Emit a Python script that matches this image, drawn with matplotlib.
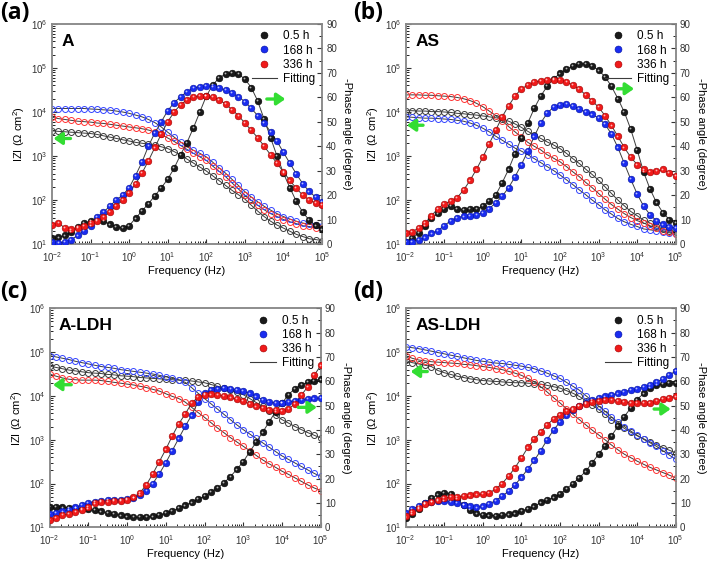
import matplotlib
matplotlib.use("Agg")
import matplotlib.pyplot as plt
import matplotlib.ticker as mticker
import matplotlib.transforms as mtransforms
from matplotlib.lines import Line2D
import numpy as np

plt.rcParams['font.family'] = ['Liberation Sans', 'DejaVu Sans']
plt.rcParams['mathtext.fontset'] = 'custom'
plt.rcParams['mathtext.rm'] = 'Liberation Sans'
plt.rcParams['mathtext.it'] = 'Liberation Sans:italic'
plt.rcParams['mathtext.bf'] = 'Liberation Sans:bold'

# measurement frequencies, 6 per decade, 10 mHz .. 100 kHz
freq = np.logspace(-2, 5, 43)
labels = ['0.5 h', '168 h', '336 h']

# ---------------- (a) A ----------------
a_z_05 = [3720, 3630, 3550, 3470, 3390, 3310,
          3240, 3090, 2880, 2690, 2510, 2340,
          2190, 2040, 1950, 1860, 1740, 1620,
          1480, 1260, 1050, 851, 692, 562,
          457, 355, 275, 214, 166, 132,
          105, 76, 56, 42, 33, 27,
          23, 19.5, 16.6, 14.8, 13.2, 12.6,
          12.0]
a_z_168 = [12000, 12000, 12000, 12000, 12000, 12000,
           11700, 11500, 11200, 11000, 10500, 10000,
           9330, 8510, 7760, 6760, 5750, 4570,
           3470, 2690, 2090, 1620, 1350, 1150,
           955, 724, 537, 407, 295, 214,
           155, 117, 91, 72, 59, 49,
           42, 37, 33, 30, 28, 27,
           26]
a_z_336 = [7590, 7080, 6760, 6460, 6170, 6030,
           5890, 5620, 5500, 5250, 5010, 4790,
           4570, 4370, 4170, 3890, 3550, 3090,
           2570, 2140, 1740, 1410, 1150, 955,
           794, 589, 447, 339, 245, 178,
           129, 98, 76, 60, 49, 42,
           36, 32, 29, 26, 25, 23,
           23]
a_ph_05 = [2.3, 2.7, 3.5, 4.8, 7.0, 8.6,
           9.3, 9.8, 9.4, 8.0, 7.0, 6.7,
           7.5, 10.5, 13.5, 16.5, 19.7, 23.0,
           26.5, 31.0, 36.5, 41.5, 47.5, 54.0,
           60.5, 65.0, 68.0, 69.5, 70.0, 69.5,
           67.5, 64.0, 58.5, 51.0, 43.5, 36.0,
           29.0, 23.0, 17.5, 13.0, 9.8, 7.6,
           6.0]
a_ph_168 = [0.8, 0.5, 0.8, 1.8, 3.5, 5.5,
            7.5, 11.0, 13.0, 15.5, 18.0, 20.0,
            23.0, 28.0, 33.5, 40.0, 45.5, 50.0,
            54.5, 57.8, 60.2, 62.3, 63.8, 64.4,
            64.6, 64.4, 63.8, 63.0, 61.7, 60.3,
            58.2, 55.5, 52.5, 49.7, 45.8, 42.0,
            37.5, 33.0, 28.7, 24.7, 21.5, 19.2,
            17.3]
a_ph_336 = [7.8, 8.7, 6.5, 6.0, 6.5, 7.5,
            8.5, 9.5, 11.0, 13.0, 15.5, 18.0,
            21.0, 24.5, 29.0, 34.0, 39.5, 45.0,
            50.0, 54.0, 57.0, 59.0, 60.2, 60.6,
            60.5, 60.0, 59.0, 57.3, 55.0, 52.5,
            49.5, 46.5, 43.5, 40.0, 36.5, 33.0,
            29.5, 26.0, 22.8, 20.0, 18.0, 16.8,
            16.0]

# ---------------- (b) AS ----------------
b_z_05 = [10700, 10700, 10500, 10500, 10200, 10200,
          10000, 9770, 9330, 9120, 8710, 8510,
          8130, 7760, 7410, 6920, 6170, 5370,
          4470, 3630, 3020, 2510, 2090, 1780,
          1480, 1150, 871, 676, 501, 380,
          282, 200, 141, 100, 74, 55,
          44, 35, 30, 25, 22, 20,
          19]
b_z_168 = [7760, 7590, 7410, 7240, 7240, 7080,
           6920, 6760, 6460, 6170, 5620, 5010,
           4270, 3550, 2820, 2290, 1860, 1510,
           1290, 1070, 871, 708, 575, 468,
           372, 288, 224, 170, 132, 100,
           78, 60, 48, 38, 32, 28,
           25, 22, 21, 20, 19, 18,
           17]
b_z_336 = [24500, 24500, 24500, 24000, 24000, 23400,
           22900, 22400, 21400, 20000, 18200, 15800,
           13200, 10500, 8320, 6310, 4680, 3550,
           2690, 2040, 1660, 1380, 1070, 891,
           741, 575, 437, 339, 251, 191,
           141, 105, 79, 62, 49, 40,
           34, 30, 26, 23, 20, 19,
           17]
b_ph_05 = [0.7, 2.5, 4.5, 7.5, 10.5, 12.5,
           14.5, 15.5, 14.5, 14.0, 14.2, 14.2,
           15.5, 17.5, 20.0, 25.0, 30.5, 37.0,
           43.5, 49.5, 55.5, 60.5, 64.5, 67.5,
           69.8, 71.5, 72.8, 73.6, 73.7, 73.0,
           71.0, 68.5, 64.5, 59.5, 54.0, 47.0,
           38.5, 29.5, 22.5, 17.0, 12.8, 10.0,
           8.5]
b_ph_168 = [0.7, 1.0, 1.8, 2.7, 4.3, 5.5,
            7.5, 9.5, 10.8, 11.3, 11.6, 12.0,
            12.8, 14.5, 16.8, 19.5, 23.0, 27.5,
            32.5, 38.0, 44.0, 49.5, 53.5, 56.0,
            57.0, 57.2, 56.5, 55.2, 54.0, 53.0,
            51.5, 49.0, 45.0, 39.5, 33.0, 26.5,
            20.5, 15.5, 12.0, 9.5, 8.0, 7.0,
            6.5]
b_ph_336 = [4.5, 5.0, 6.5, 8.5, 11.5, 14.5,
            16.5, 17.5, 19.0, 22.0, 26.0, 30.5,
            35.5, 41.0, 46.5, 52.0, 56.5, 60.5,
            63.5, 65.0, 66.2, 66.8, 67.2, 67.2,
            67.0, 66.3, 65.0, 63.3, 61.0, 58.5,
            56.0, 52.5, 48.5, 44.0, 39.5, 35.5,
            32.5, 30.5, 29.5, 29.8, 30.5, 29.0,
            28.0]

# ---------------- (c) A-LDH ----------------
c_z_05 = [47900, 44700, 41700, 38900, 37200, 35500,
          33900, 33100, 32400, 30900, 30200, 28800,
          28200, 27500, 26300, 25700, 25100, 24500,
          24000, 23400, 22900, 22900, 21900, 20900,
          20000, 18200, 16600, 15100, 13500, 12000,
          10700, 8710, 7080, 5750, 4570, 3630,
          2880, 2400, 2000, 1700, 1450, 1260,
          1100]
c_z_168 = [83200, 77600, 72400, 67600, 61700, 57500,
           53700, 50100, 46800, 44700, 42700, 39800,
           38000, 36300, 34700, 33100, 31600, 29500,
           27500, 25100, 23400, 20400, 15500, 11500,
           8710, 6610, 5010, 3800, 2880, 2190,
           1700, 1350, 1070, 851, 676, 537,
           427, 355, 295, 245, 204, 170,
           145]
c_z_336 = [31600, 28200, 25700, 24000, 23400, 22900,
           22900, 22900, 22400, 21400, 20400, 19500,
           18600, 17800, 16600, 15500, 14100, 12900,
           11200, 9770, 8710, 7240, 5500, 4170,
           3240, 2450, 1860, 1450, 1120, 891,
           708, 562, 437, 347, 282, 234,
           191, 162, 135, 112, 93, 79,
           69]
c_ph_05 = [8.3, 8.3, 8.2, 8.0, 7.8, 7.6,
           7.5, 7.0, 6.5, 6.0, 5.4, 4.9,
           4.5, 4.2, 4.1, 4.2, 4.5, 5.0,
           5.8, 6.8, 7.8, 9.0, 10.2, 11.5,
           12.8, 14.4, 16.2, 18.2, 20.8, 23.8,
           27.0, 31.0, 35.0, 39.0, 43.3, 47.5,
           51.0, 54.5, 57.0, 58.6, 59.6, 60.3,
           60.8]
c_ph_168 = [5.5, 6.0, 6.5, 7.2, 8.2, 9.2,
            10.0, 10.6, 11.0, 11.2, 11.3, 11.4,
            11.6, 12.2, 13.2, 15.0, 18.0, 22.0,
            26.5, 31.5, 36.5, 41.5, 46.0, 51.5,
            55.0, 56.5, 57.0, 57.2, 57.0, 56.5,
            55.9, 55.0, 53.8, 52.5, 51.5, 51.1,
            51.1, 51.5, 52.0, 52.5, 52.8, 53.0,
            53.1]
c_ph_336 = [3.0, 4.0, 5.0, 5.5, 6.3, 7.2,
            8.5, 9.8, 10.3, 10.6, 10.8, 11.0,
            11.3, 12.3, 14.2, 17.5, 22.0, 27.0,
            32.0, 37.5, 42.5, 46.5, 51.0, 53.5,
            54.4, 54.6, 54.4, 54.0, 53.4, 52.6,
            51.8, 50.7, 49.7, 49.0, 48.4, 48.1,
            48.0, 48.6, 50.8, 54.3, 57.8, 62.5,
            66.5]

# ---------------- (d) AS-LDH ----------------
d_z_05 = [64600, 57500, 53700, 50100, 46800, 38000,
          33900, 30900, 28200, 26300, 24500, 23400,
          22400, 21900, 21400, 20900, 20400, 20000,
          20000, 19500, 19100, 18600, 17400, 16200,
          15100, 13200, 11500, 9770, 7760, 6170,
          4900, 3800, 2880, 2290, 1820, 1480,
          1230, 1050, 891, 776, 661, 575,
          501]
d_z_168 = [132000, 126000, 120000, 112000, 105000, 97700,
           91200, 85100, 79400, 74100, 69200, 64600,
           61700, 58900, 56200, 55000, 52500, 50100,
           47900, 44700, 41700, 37200, 33100, 28800,
           25100, 20400, 16600, 13500, 10200, 7760,
           5890, 4470, 3310, 2510, 2000, 1580,
           1260, 1020, 851, 708, 562, 447,
           355]
d_z_336 = [83200, 72400, 66100, 63100, 60300, 58900,
           57500, 56200, 55000, 52500, 51300, 49000,
           46800, 44700, 41700, 39800, 36300, 33100,
           29500, 25100, 20900, 16200, 12300, 9120,
           6920, 5130, 3800, 2880, 2190, 1660,
           1290, 1000, 759, 589, 468, 389,
           324, 275, 234, 204, 178, 155,
           135]
d_ph_05 = [3.8, 5.5, 7.5, 10.0, 12.0, 13.5,
           14.2, 13.8, 11.5, 9.3, 7.0, 5.7,
           5.2, 4.9, 4.8, 5.0, 5.3, 5.7,
           6.6, 7.6, 8.6, 10.2, 11.2, 12.3,
           13.6, 15.8, 18.0, 20.3, 23.0, 26.5,
           30.0, 33.5, 37.5, 41.5, 45.5, 49.0,
           52.5, 55.0, 57.3, 58.4, 59.0, 59.3,
           59.2]
d_ph_168 = [5.8, 7.5, 8.7, 9.8, 10.6, 11.0,
            11.0, 10.6, 10.0, 9.3, 8.6, 8.2,
            8.6, 9.6, 11.0, 12.8, 14.8, 17.5,
            20.5, 24.0, 27.5, 31.5, 36.0, 40.0,
            43.3, 46.0, 48.2, 49.8, 51.2, 52.3,
            53.1, 53.8, 54.4, 55.0, 55.7, 56.4,
            57.0, 57.7, 58.6, 59.7, 61.0, 62.5,
            64.3]
d_ph_336 = [4.5, 6.3, 8.0, 9.5, 10.5, 11.4,
            12.0, 12.4, 12.6, 12.8, 13.1, 13.5,
            13.6, 14.2, 15.7, 18.0, 21.0, 24.5,
            28.5, 32.8, 36.2, 39.2, 42.0, 44.6,
            46.3, 47.7, 48.8, 49.8, 50.7, 51.4,
            52.0, 52.4, 52.4, 52.0, 51.5, 51.1,
            51.0, 51.0, 51.1, 51.9, 52.7, 53.3,
            53.8]

fill_colors = ['#1a1a1a', '#1a2cf0', '#f01a1a']
edge_colors = ['#000000', '#0010a0', '#a00000']
open_colors = ['#3a3a3a', '#3344ff', '#ff3333']
fit_color = '#3c3c3c'
arrow_color = '#33dd33'

fig = plt.figure(figsize=(7.08, 5.63), dpi=100)


def draw_panel(rect, letter, letter_xy, name, zs, phs, left_arrow, right_arrow):
    ax = fig.add_axes(rect)
    ax2 = ax.twinx()
    hl = mtransforms.offset_copy(ax2.transData, fig=fig, x=-0.6, y=0.6, units='points')

    for z, ph, cf, ce, co in zip(zs, phs, fill_colors, edge_colors, open_colors):
        ax.plot(freq, z, color=fit_color, lw=0.7, zorder=2)
        ax.plot(freq, z, 'o', mfc='none', mec=co, ms=4.3, mew=0.7, zorder=3)
        ax2.plot(freq, ph, color=fit_color, lw=0.7, zorder=2)
        ax2.plot(freq, ph, 'o', mfc=cf, mec=ce, ms=4.8, mew=0.4, zorder=3)
        ax2.plot(freq, ph, 'o', color='white', ms=1.3, alpha=0.7, mew=0,
                 transform=hl, zorder=4)

    ax.set_xscale('log')
    ax.set_yscale('log')
    ax.set_xlim(1e-2, 1e5)
    ax.set_ylim(1e1, 1e6)
    ax2.set_ylim(0, 90)
    ax2.set_yticks(range(0, 91, 10))
    ax2.yaxis.set_minor_locator(mticker.MultipleLocator(5))
    ax.xaxis.set_major_locator(mticker.LogLocator(base=10, numticks=10))
    ax.xaxis.set_minor_locator(mticker.LogLocator(base=10, subs=np.arange(2, 10), numticks=20))
    ax.yaxis.set_major_locator(mticker.LogLocator(base=10, numticks=10))
    ax.yaxis.set_minor_locator(mticker.LogLocator(base=10, subs=np.arange(2, 10), numticks=20))
    ax.xaxis.set_minor_formatter(mticker.NullFormatter())
    ax.yaxis.set_minor_formatter(mticker.NullFormatter())

    ax.tick_params(which='major', direction='in', length=3.5, width=0.8, labelsize=7,
                   top=False, right=False, colors='#333333', pad=3)
    ax.tick_params(axis='x', which='major', pad=4.5)
    ax.tick_params(which='minor', direction='in', length=2, width=0.6, top=False, right=False)
    ax2.tick_params(which='major', direction='in', length=3.5, width=0.8, labelsize=7,
                    colors='#333333', pad=3)
    ax2.tick_params(which='minor', direction='in', length=2, width=0.6)
    for a in (ax, ax2):
        for sp in a.spines.values():
            sp.set_color('#8a8a8a')
            sp.set_linewidth(1.1)

    ax.set_xlabel('Frequency (Hz)', fontsize=8, labelpad=1.5)
    ax.set_ylabel('IZI ($\\Omega$ cm$^2$)', fontsize=8, labelpad=3)
    ax2.set_ylabel('-Phase angle (degree)', fontsize=8, rotation=270, labelpad=11)

    ax.text(0.035, 0.955, name, transform=ax.transAxes, fontsize=12.5,
            fontweight='bold', va='top', ha='left')
    fig.text(letter_xy[0], letter_xy[1], letter, fontsize=16.5, family='Open Sans',
             fontweight='bold', va='top', ha='left')

    handles = [Line2D([], [], ls='none', marker='o', mfc=cf, mec=ce, ms=5, mew=0.4)
               for cf, ce in zip(fill_colors, edge_colors)]
    handles.append(Line2D([], [], color=fit_color, lw=0.8))
    ax2.legend(handles, labels + ['Fitting'], loc='upper right', frameon=False,
               fontsize=8.5, handlelength=2.2, handletextpad=0.5, labelspacing=0.18,
               borderaxespad=0.25, borderpad=0.3)

    (lx0, lx1, ly) = left_arrow
    ax.annotate('', xy=(lx1, ly), xytext=(lx0, ly),
                arrowprops=dict(arrowstyle='-|>,head_length=0.5,head_width=0.35',
                                color=arrow_color, lw=2.4, shrinkA=0, shrinkB=0),
                zorder=6)
    (rx0, rx1, ry) = right_arrow
    ax2.annotate('', xy=(rx1, ry), xytext=(rx0, ry),
                 arrowprops=dict(arrowstyle='-|>,head_length=0.5,head_width=0.35',
                                 color=arrow_color, lw=2.4, shrinkA=0, shrinkB=0),
                 zorder=6)


draw_panel([0.0734, 0.5666, 0.3814, 0.3908], '(a)', (0.0, 0.999), 'A',
           [a_z_05, a_z_168, a_z_336], [a_ph_05, a_ph_168, a_ph_336],
           (10 ** -1.52, 10 ** -1.96, 2500), (10 ** 3.57, 10 ** 4.05, 59.3))
draw_panel([0.5730, 0.5666, 0.3814, 0.3908], '(b)', (0.499, 0.999), 'AS',
           [b_z_05, b_z_168, b_z_336], [b_ph_05, b_ph_168, b_ph_336],
           (10 ** -1.55, 10 ** -1.97, 5000), (10 ** 3.49, 10 ** 3.92, 63.5))
draw_panel([0.0700, 0.0634, 0.3830, 0.3890], '(c)', (0.0, 0.502), 'A-LDH',
           [c_z_05, c_z_168, c_z_336], [c_ph_05, c_ph_168, c_ph_336],
           (10 ** -1.44, 10 ** -1.91, 18000), (10 ** 4.42, 10 ** 4.90, 49.3))
draw_panel([0.5730, 0.0634, 0.3814, 0.3890], '(d)', (0.499, 0.502), 'AS-LDH',
           [d_z_05, d_z_168, d_z_336], [d_ph_05, d_ph_168, d_ph_336],
           (10 ** -1.44, 10 ** -1.87, 36000), (10 ** 4.44, 10 ** 4.87, 48.6))

fig.savefig('out.png', dpi=100, facecolor='white')
